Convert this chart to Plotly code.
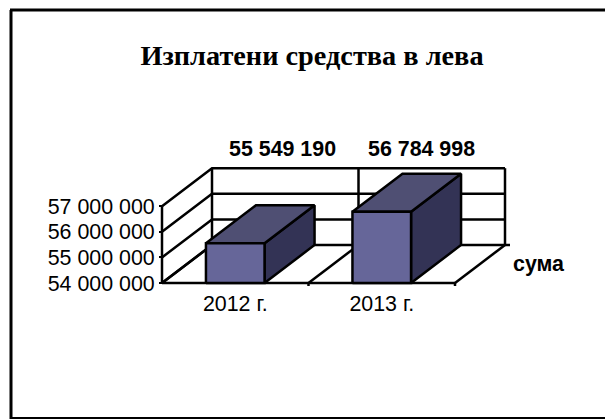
import plotly.graph_objects as go

categories = ["2012 г.", "2013 г."]
values = [55549190, 56784998]
value_labels = ["55 549 190", "56 784 998"]
y_ticks = [54000000, 55000000, 56000000, 57000000]
y_tick_labels = ["54 000 000", "55 000 000", "56 000 000", "57 000 000"]
series_name = "сума"
title = "Изплатени средства в лева"

W, H = 605, 419
X0, Y0 = 162.0, 283.0          # pixel of the axes' origin
PX_PER_CAT, PX_PER_VAL = 146.5, 25.6 / 1e6
DU, DV = 50 / PX_PER_CAT, 38 / PX_PER_VAL   # oblique depth in data units
VMIN, VMAX = y_ticks[0], y_ticks[-1]
BAR_HALF = 0.2

FRONT, TOP, SIDE = "#666699", "#4F4F73", "#333355"
LW = 2.5
FS = 21.4

fig = go.Figure()


def poly(xs, ys, fill=None):
    fig.add_trace(go.Scatter(
        x=xs, y=ys, mode="lines", hoverinfo="skip", showlegend=False,
        fill="toself" if fill else None, fillcolor=fill,
        line=dict(color="black", width=LW)))


# walls and floor
for v in y_ticks:
    poly([0, DU, 2 + DU], [v, v + DV, v + DV])
poly([0, 0], [VMIN, VMAX])
for u in (0, 1, 2):
    poly([u + DU, u + DU], [VMIN + DV, VMAX + DV])
    poly([u, u + DU], [VMIN, VMIN + DV])
poly([0, 2], [VMIN, VMIN])
# small ticks
for u in (1, 2):
    poly([u, u], [VMIN, VMIN - 3 / PX_PER_VAL])
poly([2 + DU, 2 + DU + 5 / PX_PER_CAT], [VMIN + DV, VMIN + DV])

# bars
for i, val in enumerate(values):
    a, b = i + 0.5 - BAR_HALF, i + 0.5 + BAR_HALF
    poly([b, b + DU, b + DU, b, b], [VMIN, VMIN + DV, val + DV, val, VMIN], SIDE)
    poly([a, b, b + DU, a + DU, a], [val, val, val + DV, val + DV, val], TOP)
    poly([a, b, b, a, a], [VMIN, VMIN, val, val, VMIN], FRONT)

annots = [dict(x=(282 - X0) / PX_PER_CAT, y=VMIN + (283 - 149) / PX_PER_VAL, text=value_labels[0]),
          dict(x=(421 - X0) / PX_PER_CAT, y=VMIN + (283 - 149) / PX_PER_VAL, text=value_labels[1]),
          dict(x=(539 - X0) / PX_PER_CAT, y=VMIN + (283 - 264) / PX_PER_VAL, text=series_name)]
for a in annots:
    a.update(showarrow=False, xanchor="center", yanchor="middle",
             font=dict(family="Liberation Sans", size=FS, color="black", weight="bold"))

fig.update_layout(
    width=W, height=H, autosize=False, margin=dict(l=0, r=0, t=0, b=0),
    paper_bgcolor="white", plot_bgcolor="white", showlegend=False,
    title=dict(text=f"<b>{title}</b>", x=312 / W, xanchor="center", y=1 - 55 / H, yanchor="middle",
               font=dict(family="Liberation Serif", size=28.3, color="black")),
    xaxis=dict(range=[-X0 / PX_PER_CAT, (W - X0) / PX_PER_CAT], anchor="free", position=(H - Y0) / H,
               tickvals=[0.5, 1.5], ticktext=categories, showgrid=False, zeroline=False, showline=False,
               ticks="", ticklen=0, ticklabelstandoff=6,
               tickfont=dict(family="Liberation Sans", size=FS, color="black")),
    yaxis=dict(range=[VMIN - (H - Y0) / PX_PER_VAL, VMIN + Y0 / PX_PER_VAL], anchor="free", position=X0 / W,
               tickvals=y_ticks, ticktext=y_tick_labels, showgrid=False, zeroline=False, showline=False,
               ticks="outside", ticklen=3, tickwidth=2, tickcolor="black",
               tickfont=dict(family="Liberation Sans", size=FS, color="black")),
    annotations=annots,
    shapes=[dict(type="line", xref="paper", yref="paper", x0=11 / W, x1=11 / W, y0=0, y1=1 - 10 / H,
                 line=dict(color="black", width=3)),
            dict(type="line", xref="paper", yref="paper", x0=10 / W, x1=1, y0=1 - 10 / H, y1=1 - 10 / H,
                 line=dict(color="black", width=3)),
            dict(type="line", xref="paper", yref="paper", x0=10 / W, x1=1, y0=1 / H, y1=1 / H,
                 line=dict(color="black", width=2))],
)
fig.write_html("out.html", config=dict(displayModeBar=False),
               post_script="document.body.style.margin='0';document.documentElement.style.overflow='hidden';")
